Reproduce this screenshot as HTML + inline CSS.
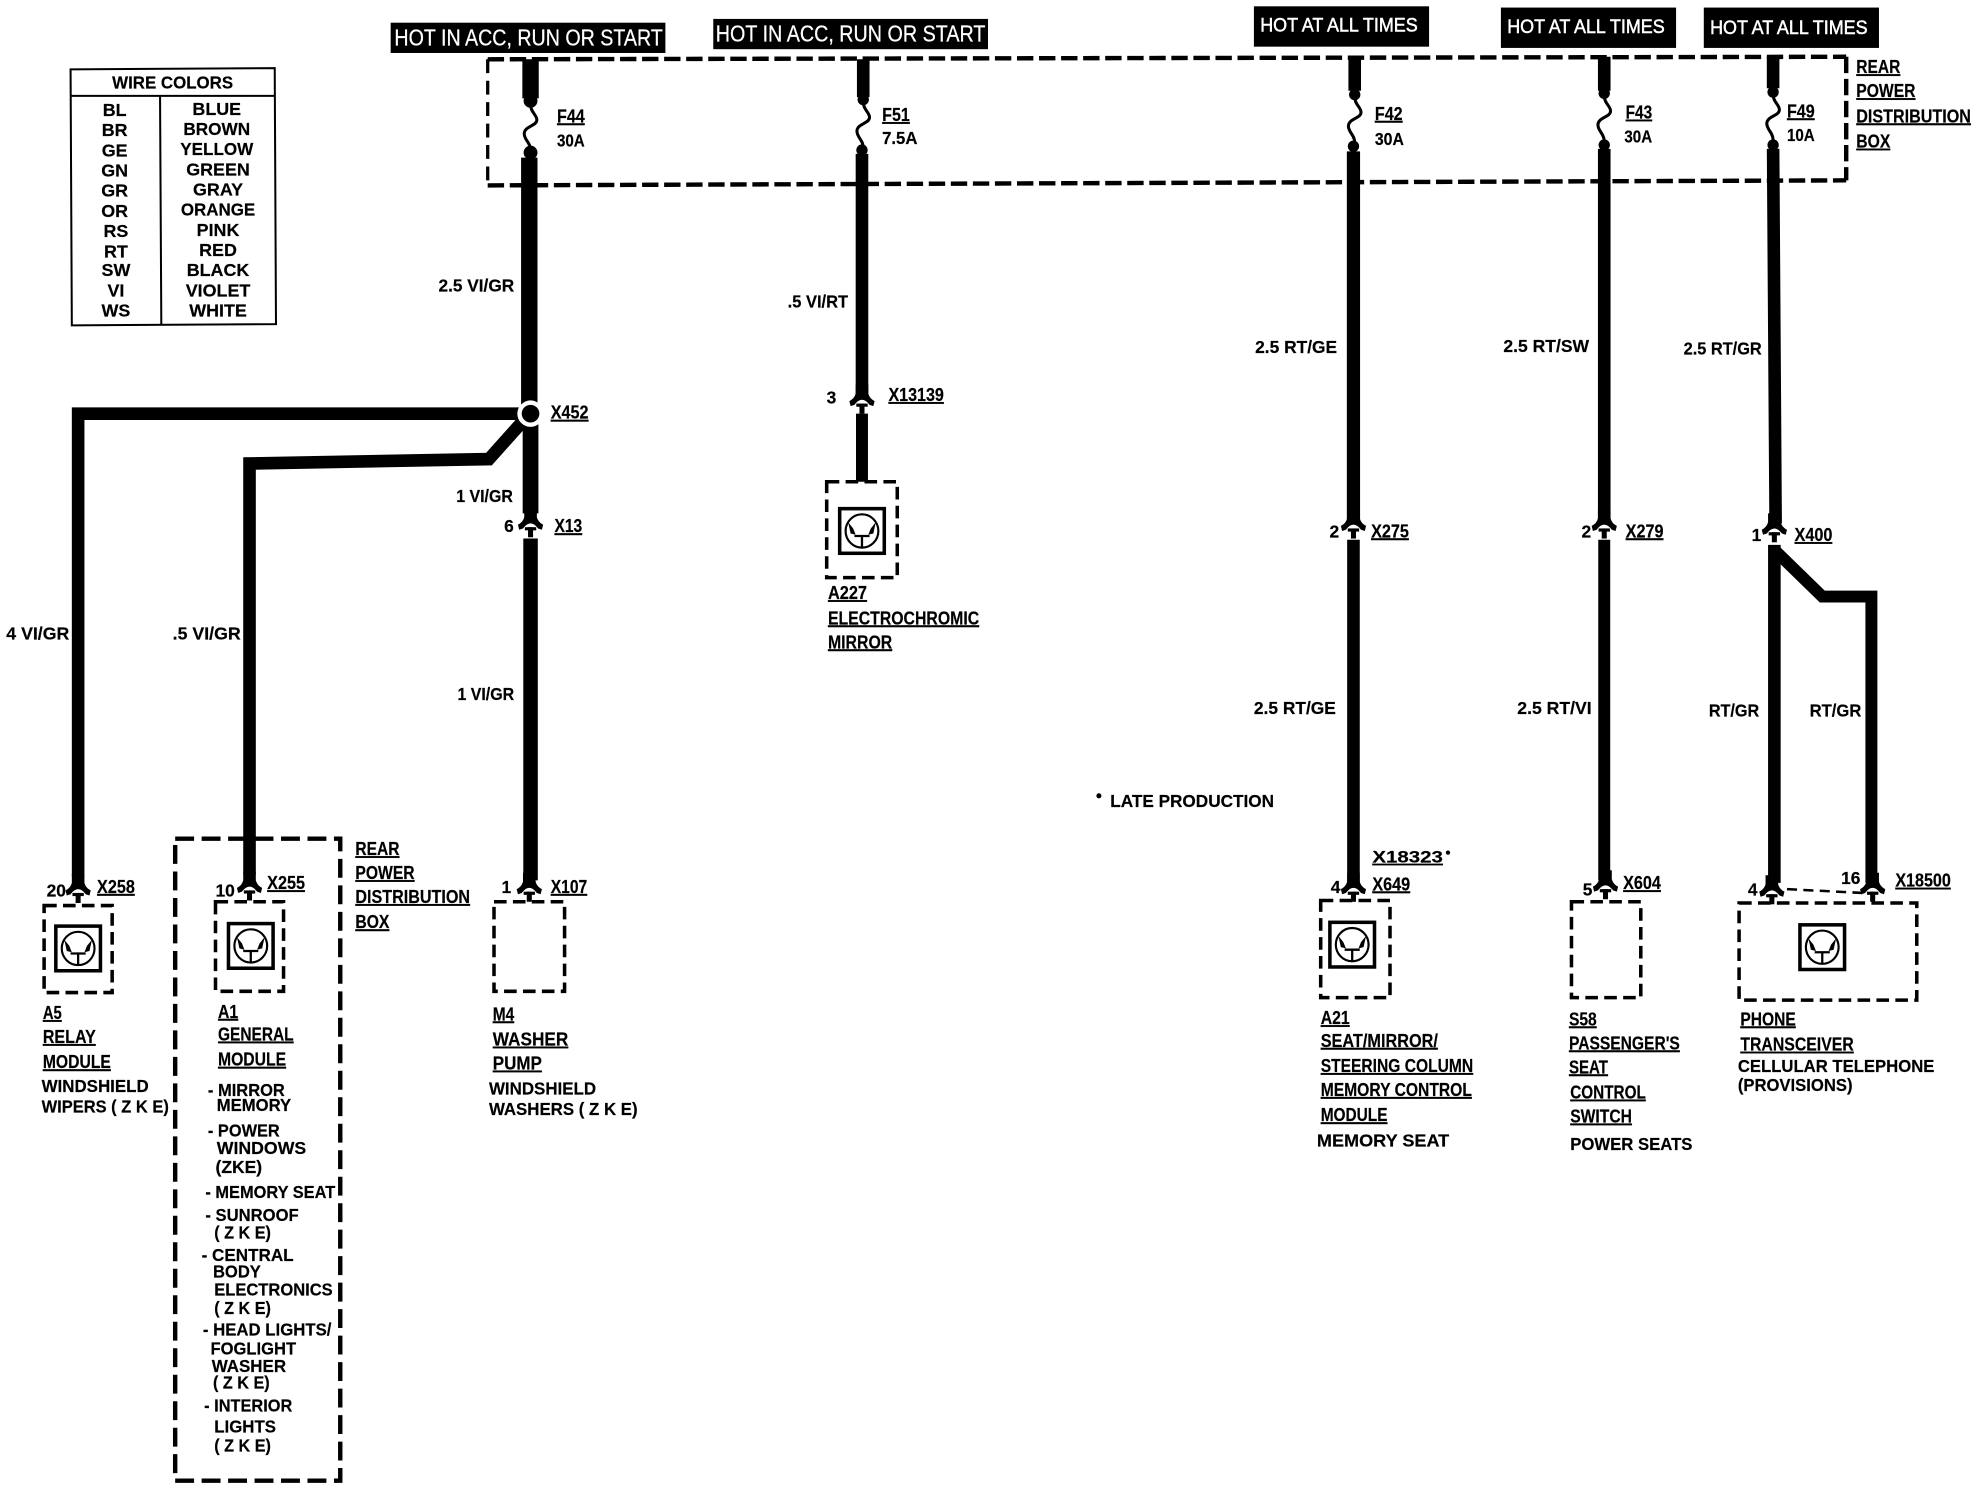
<!DOCTYPE html>
<html lang="en"><head><meta charset="utf-8"><title>Wiring diagram</title>
<style>
html,body{margin:0;padding:0;background:#fff;width:1976px;height:1504px;overflow:hidden}
svg{display:block}
text{font-family:"Liberation Sans",sans-serif;font-weight:bold;font-size:13.8px;fill:#000;stroke:#000;stroke-width:.15}
.u{text-decoration:underline;font-size:14.6px}
.h{fill:#fff;stroke:#fff;stroke-width:.2;font-weight:normal;font-size:18px}
.a{fill:#fff;font-size:15.5px;font-weight:normal;stroke:#fff;stroke-width:.4}
.t{font-size:14.2px;text-anchor:middle}
</style></head><body>
<svg xmlns="http://www.w3.org/2000/svg" width="1976" height="1504" viewBox="0 0 1568 1192.5" preserveAspectRatio="none">
<defs>
<g id="c">
<path d="M-5,-14 L5,-14 L5,-7 Q6,-3 10,-1 L9,3 L6,2 Q3,-2 0,-2 Q-3,-2 -6,2 L-9,3 L-10,-1 Q-6,-3 -5,-7Z"/>
<rect x="-4.5" y="1" width="9" height="2.5"/><rect x="-2" y="1" width="4" height="8"/>
</g>
<g id="i">
<rect x="-17.7" y="-17.7" width="35.4" height="35.4" fill="#fff" stroke="#000" stroke-width="2.8"/>
<ellipse cx="0" cy="0" rx="13" ry="13.2" fill="none" stroke="#000" stroke-width="1.7"/>
<path d="M0,13 V4 M-6,4 H6" fill="none" stroke="#000" stroke-width="1.8"/>
<path d="M-11,-7 L-7,-2 L-5,3 L-9,2Z M11,-7 L7,-2 L5,3 L9,2Z"/>
</g>
<path id="f" d="M0,0 C0,6 5,8 5,12 C5,17 -5,17 -5,23 C-5,28 0,30 0,36" fill="none" stroke="#000" stroke-width="2.4"/>
</defs>
<rect width="1568" height="1192.5" fill="#fff"/>

<!-- wire color table -->
<path d="M56,55 L218,54 L219,257 L57,258Z M56,76 H218 M127,76 L128,257" fill="none" stroke="#000" stroke-width="1.6"/>
<text x="137" y="70" class="t" textLength="96" lengthAdjust="spacingAndGlyphs">WIRE COLORS</text>
<text x="91" y="92" class="t">BL</text><text x="172" y="91" class="t">BLUE</text>
<text x="91" y="108" class="t">BR</text><text x="172" y="107" class="t" textLength="53" lengthAdjust="spacingAndGlyphs">BROWN</text>
<text x="91" y="124" class="t">GE</text><text x="172" y="123" class="t" textLength="58" lengthAdjust="spacingAndGlyphs">YELLOW</text>
<text x="91" y="140" class="t">GN</text><text x="173" y="139" class="t">GREEN</text>
<text x="91" y="156" class="t">GR</text><text x="173" y="155" class="t">GRAY</text>
<text x="91" y="172" class="t">OR</text><text x="173" y="171" class="t" textLength="59" lengthAdjust="spacingAndGlyphs">ORANGE</text>
<text x="92" y="188" class="t">RS</text><text x="173" y="187" class="t">PINK</text>
<text x="92" y="204" class="t">RT</text><text x="173" y="203" class="t">RED</text>
<text x="92" y="219" class="t">SW</text><text x="173" y="219" class="t">BLACK</text>
<text x="92" y="235" class="t">VI</text><text x="173" y="235" class="t">VIOLET</text>
<text x="92" y="251" class="t">WS</text><text x="173" y="251" class="t">WHITE</text>

<!-- hot boxes -->
<rect x="310" y="18" width="218" height="24"/><text x="313" y="36" class="h" textLength="213" lengthAdjust="spacingAndGlyphs">HOT IN ACC, RUN OR START</text>
<rect x="566" y="15" width="218" height="24"/><text x="568" y="33" class="h" textLength="214" lengthAdjust="spacingAndGlyphs">HOT IN ACC, RUN OR START</text>
<rect x="995" y="5" width="139" height="32"/><text x="1000" y="25" class="a" textLength="125" lengthAdjust="spacingAndGlyphs">HOT AT ALL TIMES</text>
<rect x="1191" y="6" width="139" height="32"/><text x="1196" y="26" class="a" textLength="125" lengthAdjust="spacingAndGlyphs">HOT AT ALL TIMES</text>
<rect x="1352" y="6" width="139" height="32"/><text x="1357" y="27" class="a" textLength="125" lengthAdjust="spacingAndGlyphs">HOT AT ALL TIMES</text>

<!-- rear power distribution box (top) -->
<g fill="none" stroke="#000" stroke-width="3.5" stroke-dasharray="13 4.5">
<path d="M387,47 L1465,45"/><path d="M387,147 L1465,143"/>
<path d="M1465,45 V143"/><path d="M387,47 V147" stroke-width="2.6" stroke-dasharray="11 6"/>
</g>

<!-- fuses + vertical wires -->
<g stroke="#000" fill="none">
<path d="M421,47 V78" stroke-width="13"/><path d="M420,125 V323" stroke-width="13"/>
<path d="M685,47 V77" stroke-width="10"/><path d="M684,122 V312" stroke-width="10"/>
<path d="M1075,45 V72" stroke-width="10"/><path d="M1074,120 V412" stroke-width="10.5"/>
<path d="M1273,45 V72" stroke-width="10"/><path d="M1273,118 V412" stroke-width="10"/>
<path d="M1407,45 V70" stroke-width="10"/><path d="M1407,118 L1409,415" stroke-width="10"/>
</g>
<circle cx="421" cy="80" r="5.5"/><circle cx="421" cy="121" r="5.5"/><use href="#f" x="421" y="83"/>
<circle cx="685" cy="79" r="4.5"/><circle cx="684" cy="119" r="4.5"/><use href="#f" x="685" y="81"/>
<circle cx="1075" cy="75" r="4.5"/><circle cx="1074" cy="116" r="4.5"/><use href="#f" x="1075" y="77"/>
<circle cx="1273" cy="74" r="4.5"/><circle cx="1273" cy="115" r="4.5"/><use href="#f" x="1273" y="76"/>
<circle cx="1407" cy="73" r="4.5"/><circle cx="1407" cy="115" r="4.5"/><use href="#f" x="1407" y="75"/>

<!-- X452 branch wires -->
<g stroke="#000" fill="none" stroke-linejoin="miter">
<path d="M62,695 V328 H412" stroke-width="10"/>
<path d="M198,693 V367.5 L388,364 L414,335" stroke-width="10"/>
<path d="M421,330 V407" stroke-width="12.5"/>
<path d="M421,427 V698" stroke-width="11.5"/>
<path d="M684,328 V382" stroke-width="9.5"/>
<path d="M1074,428 V700" stroke-width="10"/>
<path d="M1273,428 V698" stroke-width="9.5"/>
<path d="M1408,432 V700" stroke-width="10"/>
<path d="M1408,436 L1446,473 H1485 V700" stroke-width="9.5"/>
</g>
<circle cx="421" cy="328" r="10.5" fill="#fff"/><circle cx="421" cy="328" r="7"/>

<!-- connectors -->
<use href="#c" x="421" y="417"/><use href="#c" x="684" y="319"/>
<use href="#c" x="1074" y="418"/><use href="#c" x="1273" y="418"/><use href="#c" x="1408" y="421"/>
<use href="#c" x="62" y="707"/><use href="#c" x="198" y="705"/><use href="#c" x="420" y="706"/>
<use href="#c" x="1074" y="706"/><use href="#c" x="1274" y="704"/>
<use href="#c" x="1406" y="708"/><use href="#c" x="1486" y="706"/>
<path d="M1418,705 L1478,708" stroke="#000" stroke-width="2" stroke-dasharray="8 5" fill="none"/>

<!-- component dashed boxes -->
<g fill="none" stroke="#000" stroke-width="2.8" stroke-dasharray="10 5">
<rect x="35" y="718" width="54" height="69"/>
<rect x="171" y="715" width="54" height="71"/>
<rect x="392" y="715" width="56" height="71"/>
<rect x="656" y="382" width="56" height="76"/>
<rect x="1048" y="714" width="55" height="77"/>
<rect x="1247" y="715" width="55" height="76"/>
<rect x="1380" y="716" width="141" height="77"/>
<rect x="139" y="665" width="131" height="509" stroke-width="3.5" stroke-dasharray="15 6"/>
</g>
<use href="#i" x="62" y="752"/><use href="#i" x="199" y="750"/><use href="#i" x="684" y="421"/>
<use href="#i" x="1073" y="749"/><use href="#i" x="1446" y="751"/>

<!-- fuse labels -->
<text x="442" y="97" class="u" textLength="22" lengthAdjust="spacingAndGlyphs">F44</text><text x="442" y="116" textLength="22" lengthAdjust="spacingAndGlyphs">30A</text>
<text x="700" y="96" class="u" textLength="22" lengthAdjust="spacingAndGlyphs">F51</text><text x="700" y="114" textLength="28" lengthAdjust="spacingAndGlyphs">7.5A</text>
<text x="1091" y="95" class="u" textLength="22" lengthAdjust="spacingAndGlyphs">F42</text><text x="1091" y="115" textLength="23" lengthAdjust="spacingAndGlyphs">30A</text>
<text x="1290" y="94" class="u" textLength="21" lengthAdjust="spacingAndGlyphs">F43</text><text x="1289" y="113" textLength="22" lengthAdjust="spacingAndGlyphs">30A</text>
<text x="1418" y="93" class="u" textLength="22" lengthAdjust="spacingAndGlyphs">F49</text><text x="1418" y="112" textLength="22" lengthAdjust="spacingAndGlyphs">10A</text>

<text x="1473" y="58" class="u" textLength="35" lengthAdjust="spacingAndGlyphs">REAR</text>
<text x="1473" y="77" class="u" textLength="47" lengthAdjust="spacingAndGlyphs">POWER</text>
<text x="1473" y="97" class="u" textLength="91" lengthAdjust="spacingAndGlyphs">DISTRIBUTION</text>
<text x="1473" y="117" class="u" textLength="27" lengthAdjust="spacingAndGlyphs">BOX</text>

<!-- wire labels -->
<text x="348" y="231" textLength="60" lengthAdjust="spacingAndGlyphs">2.5 VI/GR</text>
<text x="625" y="244" textLength="48" lengthAdjust="spacingAndGlyphs">.5 VI/RT</text>
<text x="996" y="280" textLength="65" lengthAdjust="spacingAndGlyphs">2.5 RT/GE</text>
<text x="1193" y="279" textLength="68" lengthAdjust="spacingAndGlyphs">2.5 RT/SW</text>
<text x="1336" y="281" textLength="62" lengthAdjust="spacingAndGlyphs">2.5 RT/GR</text>
<text x="362" y="398" textLength="45" lengthAdjust="spacingAndGlyphs">1 VI/GR</text>
<text x="5" y="507" textLength="50" lengthAdjust="spacingAndGlyphs">4 VI/GR</text>
<text x="137" y="507" textLength="54" lengthAdjust="spacingAndGlyphs">.5 VI/GR</text>
<text x="363" y="555" textLength="45" lengthAdjust="spacingAndGlyphs">1 VI/GR</text>
<text x="995" y="566" textLength="65" lengthAdjust="spacingAndGlyphs">2.5 RT/GE</text>
<text x="1204" y="566" textLength="59" lengthAdjust="spacingAndGlyphs">2.5 RT/VI</text>
<text x="1356" y="568" textLength="40" lengthAdjust="spacingAndGlyphs">RT/GR</text>
<text x="1436" y="568" textLength="41" lengthAdjust="spacingAndGlyphs">RT/GR</text>
<circle cx="872" cy="631" r="2"/>
<text x="881" y="640" textLength="130" lengthAdjust="spacingAndGlyphs">LATE PRODUCTION</text>

<!-- connector labels -->
<text x="437" y="332" class="u" textLength="30" lengthAdjust="spacingAndGlyphs">X452</text>
<text x="705" y="318" class="u" textLength="44" lengthAdjust="spacingAndGlyphs">X13139</text>
<text x="656" y="320">3</text>
<text x="400" y="422">6</text>
<text x="440" y="422" class="u" textLength="22" lengthAdjust="spacingAndGlyphs">X13</text>
<text x="1088" y="426" class="u" textLength="30" lengthAdjust="spacingAndGlyphs">X275</text><text x="1055" y="426">2</text>
<text x="1290" y="426" class="u" textLength="30" lengthAdjust="spacingAndGlyphs">X279</text><text x="1255" y="426">2</text>
<text x="1424" y="429" class="u" textLength="30" lengthAdjust="spacingAndGlyphs">X400</text><text x="1390" y="429">1</text>
<text x="1089" y="684" class="u" style="font-size:13.5px" textLength="56" lengthAdjust="spacingAndGlyphs">X18323</text><circle cx="1149" cy="676" r="1.7"/>
<text x="1089" y="706" class="u" textLength="30" lengthAdjust="spacingAndGlyphs">X649</text><text x="1056" y="708">4</text>
<text x="1288" y="705" class="u" textLength="30" lengthAdjust="spacingAndGlyphs">X604</text><text x="1256" y="710">5</text>
<text x="1387" y="710">4</text><text x="1461" y="701">16</text>
<text x="1504" y="703" class="u" textLength="44" lengthAdjust="spacingAndGlyphs">X18500</text>
<text x="37" y="711">20</text><text x="77" y="708" class="u" textLength="30" lengthAdjust="spacingAndGlyphs">X258</text>
<text x="171" y="711">10</text><text x="212" y="705" class="u" textLength="30" lengthAdjust="spacingAndGlyphs">X255</text>
<text x="398" y="708">1</text><text x="437" y="708" class="u" textLength="29" lengthAdjust="spacingAndGlyphs">X107</text>

<!-- rear box label -->
<text x="282" y="678" class="u" textLength="35" lengthAdjust="spacingAndGlyphs">REAR</text>
<text x="282" y="697" class="u" textLength="47" lengthAdjust="spacingAndGlyphs">POWER</text>
<text x="282" y="716" class="u" textLength="91" lengthAdjust="spacingAndGlyphs">DISTRIBUTION</text>
<text x="282" y="736" class="u" textLength="27" lengthAdjust="spacingAndGlyphs">BOX</text>

<!-- A5 -->
<text x="34" y="808" class="u" textLength="15" lengthAdjust="spacingAndGlyphs">A5</text>
<text x="34" y="827" class="u" textLength="42" lengthAdjust="spacingAndGlyphs">RELAY</text>
<text x="34" y="847" class="u" textLength="54" lengthAdjust="spacingAndGlyphs">MODULE</text>
<text x="33" y="866" textLength="85" lengthAdjust="spacingAndGlyphs">WINDSHIELD</text>
<text x="33" y="882" textLength="101" lengthAdjust="spacingAndGlyphs">WIPERS ( Z K E)</text>

<!-- A1 -->
<text x="173" y="807" class="u" textLength="16" lengthAdjust="spacingAndGlyphs">A1</text>
<text x="173" y="825" class="u" textLength="60" lengthAdjust="spacingAndGlyphs">GENERAL</text>
<text x="173" y="845" class="u" textLength="54" lengthAdjust="spacingAndGlyphs">MODULE</text>
<text x="165" y="869" textLength="61" lengthAdjust="spacingAndGlyphs">- MIRROR</text>
<text x="172" y="881" textLength="59" lengthAdjust="spacingAndGlyphs">MEMORY</text>
<text x="165" y="901" textLength="57" lengthAdjust="spacingAndGlyphs">- POWER</text>
<text x="172" y="915" textLength="71" lengthAdjust="spacingAndGlyphs">WINDOWS</text>
<text x="171" y="930" textLength="37" lengthAdjust="spacingAndGlyphs">(ZKE)</text>
<text x="163" y="950" textLength="103" lengthAdjust="spacingAndGlyphs">- MEMORY SEAT</text>
<text x="163" y="968" textLength="74" lengthAdjust="spacingAndGlyphs">- SUNROOF</text>
<text x="170" y="982" textLength="45" lengthAdjust="spacingAndGlyphs">( Z K E)</text>
<text x="160" y="1000" textLength="73" lengthAdjust="spacingAndGlyphs">- CENTRAL</text>
<text x="169" y="1013" textLength="38" lengthAdjust="spacingAndGlyphs">BODY</text>
<text x="170" y="1027" textLength="94" lengthAdjust="spacingAndGlyphs">ELECTRONICS</text>
<text x="170" y="1042" textLength="45" lengthAdjust="spacingAndGlyphs">( Z K E)</text>
<text x="161" y="1059" textLength="102" lengthAdjust="spacingAndGlyphs">- HEAD LIGHTS/</text>
<text x="167" y="1074" textLength="68" lengthAdjust="spacingAndGlyphs">FOGLIGHT</text>
<text x="168" y="1088" textLength="59" lengthAdjust="spacingAndGlyphs">WASHER</text>
<text x="169" y="1101" textLength="45" lengthAdjust="spacingAndGlyphs">( Z K E)</text>
<text x="162" y="1119" textLength="70" lengthAdjust="spacingAndGlyphs">- INTERIOR</text>
<text x="170" y="1136" textLength="49" lengthAdjust="spacingAndGlyphs">LIGHTS</text>
<text x="170" y="1151" textLength="45" lengthAdjust="spacingAndGlyphs">( Z K E)</text>

<!-- M4 -->
<text x="391" y="809" class="u" textLength="17" lengthAdjust="spacingAndGlyphs">M4</text>
<text x="391" y="829" class="u" textLength="60" lengthAdjust="spacingAndGlyphs">WASHER</text>
<text x="391" y="848" class="u" textLength="39" lengthAdjust="spacingAndGlyphs">PUMP</text>
<text x="388" y="868" textLength="85" lengthAdjust="spacingAndGlyphs">WINDSHIELD</text>
<text x="388" y="884" textLength="118" lengthAdjust="spacingAndGlyphs">WASHERS ( Z K E)</text>

<!-- A227 -->
<text x="657" y="475" class="u" textLength="31" lengthAdjust="spacingAndGlyphs">A227</text>
<text x="657" y="495" class="u" textLength="120" lengthAdjust="spacingAndGlyphs">ELECTROCHROMIC</text>
<text x="657" y="514" class="u" textLength="51" lengthAdjust="spacingAndGlyphs">MIRROR</text>

<!-- A21 -->
<text x="1048" y="812" class="u" textLength="23" lengthAdjust="spacingAndGlyphs">A21</text>
<text x="1048" y="830" class="u" textLength="93" lengthAdjust="spacingAndGlyphs">SEAT/MIRROR/</text>
<text x="1048" y="850" class="u" textLength="121" lengthAdjust="spacingAndGlyphs">STEERING COLUMN</text>
<text x="1048" y="869" class="u" textLength="120" lengthAdjust="spacingAndGlyphs">MEMORY CONTROL</text>
<text x="1048" y="889" class="u" textLength="53" lengthAdjust="spacingAndGlyphs">MODULE</text>
<text x="1045" y="909" textLength="105" lengthAdjust="spacingAndGlyphs">MEMORY SEAT</text>

<!-- S58 -->
<text x="1245" y="813" class="u" textLength="22" lengthAdjust="spacingAndGlyphs">S58</text>
<text x="1245" y="832" class="u" textLength="88" lengthAdjust="spacingAndGlyphs">PASSENGER'S</text>
<text x="1245" y="851" class="u" textLength="31" lengthAdjust="spacingAndGlyphs">SEAT</text>
<text x="1246" y="871" class="u" textLength="60" lengthAdjust="spacingAndGlyphs">CONTROL</text>
<text x="1246" y="890" class="u" textLength="49" lengthAdjust="spacingAndGlyphs">SWITCH</text>
<text x="1246" y="912" textLength="97" lengthAdjust="spacingAndGlyphs">POWER SEATS</text>

<!-- Phone -->
<text x="1381" y="813" class="u" textLength="44" lengthAdjust="spacingAndGlyphs">PHONE</text>
<text x="1381" y="833" class="u" textLength="90" lengthAdjust="spacingAndGlyphs">TRANSCEIVER</text>
<text x="1379" y="850" textLength="156" lengthAdjust="spacingAndGlyphs">CELLULAR TELEPHONE</text>
<text x="1379" y="865" textLength="91" lengthAdjust="spacingAndGlyphs">(PROVISIONS)</text>
</svg>
</body></html>
